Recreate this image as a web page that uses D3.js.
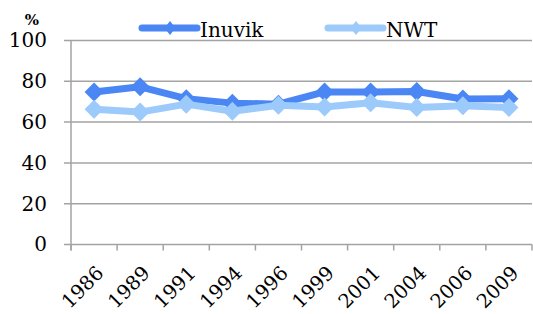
<!DOCTYPE html>
<html>
<head>
<meta charset="utf-8">
<script src="https://cdn.jsdelivr.net/npm/d3@7"></script>
<style>
  html, body { margin: 0; padding: 0; background: #fff; }
  svg { display: block; }
</style>
</head>
<body>
<div id="chart"></div>
<script>
const years = ["1986", "1989", "1991", "1994", "1996", "1999", "2001", "2004", "2006", "2009"];
const inuvik = [74.8, 77.3, 71.5, 69.3, 68.8, 74.8, 74.8, 75.0, 71.3, 71.5];
const nwt = [66.3, 64.9, 68.8, 65.3, 68.3, 67.4, 69.5, 67.2, 68.0, 67.1];
const yTicks = [0, 20, 40, 60, 80, 100];

const series = [
  { name: "Inuvik", values: inuvik, color: "#4a86f4", legendX: 142 },
  { name: "NWT", values: nwt, color: "#9ccafb", legendX: 328 }
];

const width = 533, height = 314;
const margin = { top: 40.5, right: 1, bottom: 69.5, left: 71 };
const font = "DejaVu Serif";
const grey = "#a3a3a3";

const svg = d3.select("#chart").append("svg")
  .attr("width", width)
  .attr("height", height);

const x = d3.scaleBand()
  .domain(years)
  .range([margin.left, width - margin.right]);

const y = d3.scaleLinear()
  .domain([0, 100])
  .range([height - margin.bottom, margin.top]);

// --- gridlines ---
svg.append("g")
  .selectAll("line")
  .data(yTicks)
  .enter().append("line")
  .attr("x1", margin.left - 7)
  .attr("x2", width - margin.right)
  .attr("y1", d => y(d))
  .attr("y2", d => y(d))
  .attr("stroke", grey)
  .attr("stroke-width", 1.5);

// --- y axis ---
const yAxis = svg.append("g")
  .attr("transform", `translate(${margin.left},0)`)
  .call(d3.axisLeft(y).tickValues(yTicks).tickSize(0).tickPadding(24));
yAxis.select(".domain").remove();
yAxis.selectAll("text")
  .attr("fill", "#000")
  .style("font-family", font)
  .style("font-size", "20px");

svg.append("line")
  .attr("x1", margin.left).attr("x2", margin.left)
  .attr("y1", y(100)).attr("y2", y(0) + 6)
  .attr("stroke", grey)
  .attr("stroke-width", 1.5);

// --- x axis ticks at band edges ---
const edges = years.map(d => x(d)).concat([x.range()[1]]);
svg.append("g")
  .selectAll("line")
  .data(edges)
  .enter().append("line")
  .attr("x1", d => d).attr("x2", d => d)
  .attr("y1", y(0)).attr("y2", y(0) + 6)
  .attr("stroke", grey)
  .attr("stroke-width", 1.5);

svg.append("g")
  .selectAll("text")
  .data(years)
  .enter().append("text")
  .attr("transform", d => `translate(${x(d) + x.bandwidth() / 2 + 6},${y(0) + 25}) rotate(-45)`)
  .attr("text-anchor", "end")
  .attr("dy", "0.35em")
  .style("font-family", font)
  .style("font-size", "19.5px")
  .text(d => d);

// --- % label ---
svg.append("text")
  .attr("x", 32)
  .attr("y", 25)
  .attr("text-anchor", "middle")
  .style("font-family", font)
  .style("font-size", "15px")
  .style("font-weight", "bold")
  .text("%");

// --- lines and markers ---
const diamond = r => `M0,${-r}L${r},0L0,${r}L${-r},0Z`;
const line = d3.line()
  .x((d, i) => x(years[i]) + x.bandwidth() / 2)
  .y(d => y(d));

series.forEach(s => {
  const g = svg.append("g");
  g.append("path")
    .datum(s.values)
    .attr("d", line)
    .attr("fill", "none")
    .attr("stroke", s.color)
    .attr("stroke-width", 7)
    .attr("stroke-linejoin", "round");
  g.selectAll("path.m")
    .data(s.values)
    .enter().append("path")
    .attr("class", "m")
    .attr("transform", (d, i) => `translate(${x(years[i]) + x.bandwidth() / 2},${y(d)})`)
    .attr("d", diamond(9.5))
    .attr("fill", s.color);
});

// --- legend ---
series.forEach(s => {
  const lg = svg.append("g").attr("transform", `translate(${s.legendX},28)`);
  lg.append("line")
    .attr("x1", 0).attr("x2", 55)
    .attr("stroke", s.color)
    .attr("stroke-width", 7)
    .attr("stroke-linecap", "round");
  lg.append("path")
    .attr("transform", "translate(28,0)")
    .attr("d", "M0,-7L5.5,0L0,7L-5.5,0Z")
    .attr("fill", s.color);
  lg.append("text")
    .attr("x", 58)
    .attr("y", 9)
    .style("font-family", font)
    .style("font-size", "20px")
    .text(s.name);
});
</script>
</body>
</html>
